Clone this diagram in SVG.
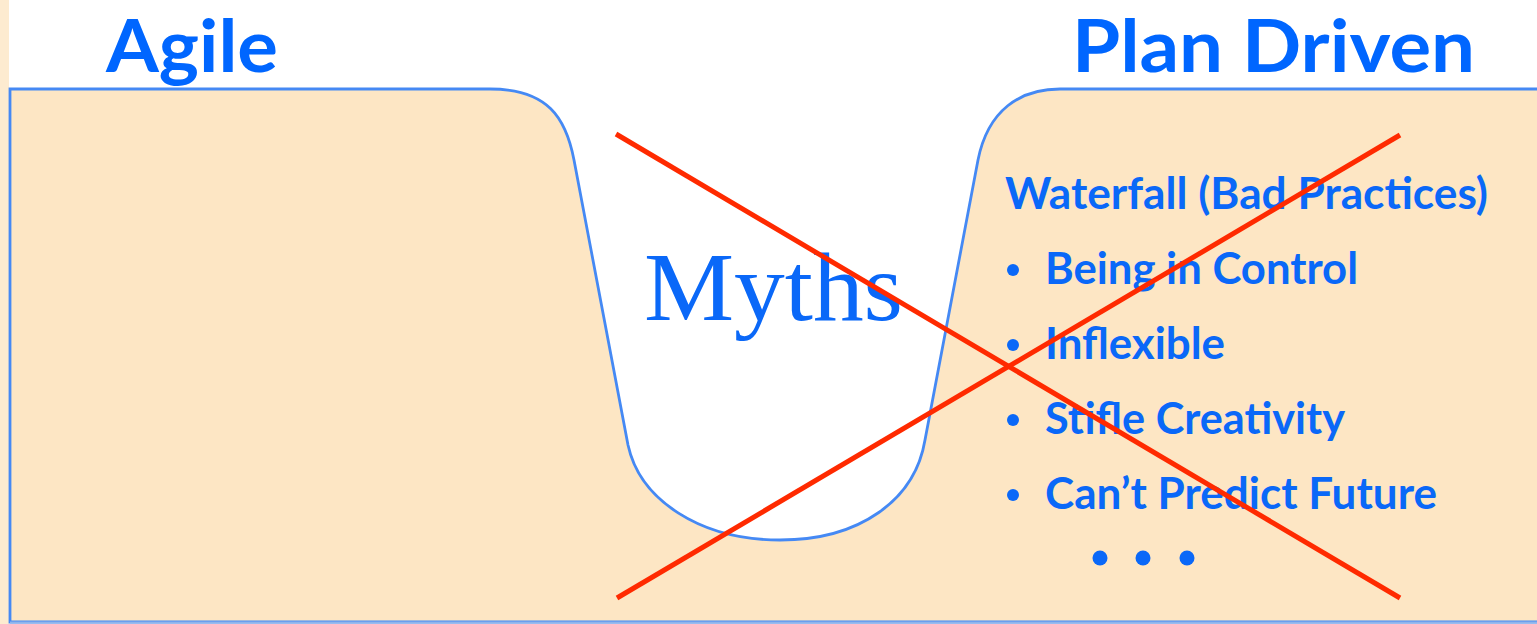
<svg xmlns="http://www.w3.org/2000/svg" width="1537" height="624" viewBox="0 0 1537 624">
  <style>
    .title { font-family: Lato, "Open Sans", "Liberation Sans", sans-serif; font-weight: 700; fill: #0066ff; font-size: 73px; }
    .item { font-family: Lato, "Open Sans", "Liberation Sans", sans-serif; font-weight: 700; fill: #0a68f8; font-size: 44px; }
    .myths { font-family: "Liberation Serif", "DejaVu Serif", serif; fill: #0a68f8; font-size: 98px; }
    .cross { stroke: #ff2a00; stroke-width: 5; fill: none; }
    .dot { fill: #0a68f8; }
  </style>
  <rect x="0" y="0" width="1537" height="624" fill="#ffffff"/>
  <rect x="0" y="0" width="9" height="624" fill="#fdebd0"/>

  <g id="landscape">
    <path d="M10,622 L10,89 L490,89 C548,89 566,118 574,160 L628,445 C640,500 700,540 780,540 C860,540 915,500 925,440 L978,160 C988,110 1020,89 1060,89 L1545,89 L1545,622 Z"
          fill="#fde6c4" stroke="#4589f4" stroke-width="2.8"/>
    <line x1="10" y1="622.5" x2="1545" y2="622.5" stroke="#8fb4ea" stroke-width="2"/>
  </g>

  <g id="agile-title">
    <text class="title" x="106" y="72" textLength="172" lengthAdjust="spacingAndGlyphs">Agile</text>
  </g>

  <g id="plan-driven-title">
    <text class="title" x="1072" y="72" textLength="403" lengthAdjust="spacingAndGlyphs">Plan Driven</text>
  </g>

  <g id="myths">
    <text class="myths" x="644" y="320" textLength="259" lengthAdjust="spacingAndGlyphs">Myths</text>
  </g>

  <g id="waterfall-list">
    <text class="item" x="1005" y="209" textLength="483" lengthAdjust="spacingAndGlyphs">Waterfall (Bad Practices)</text>
    <circle class="dot" cx="1013" cy="270" r="6"/>
    <text class="item" x="1045" y="284" textLength="313" lengthAdjust="spacingAndGlyphs">Being in Control</text>
    <circle class="dot" cx="1013" cy="345" r="6"/>
    <text class="item" x="1045" y="359" textLength="180" lengthAdjust="spacingAndGlyphs">Inflexible</text>
    <circle class="dot" cx="1013" cy="420" r="6"/>
    <text class="item" x="1045" y="434" textLength="300" lengthAdjust="spacingAndGlyphs">Stifle Creativity</text>
    <circle class="dot" cx="1013" cy="495" r="6"/>
    <text class="item" x="1045" y="509" textLength="392" lengthAdjust="spacingAndGlyphs">Can’t Predict Future</text>
    <circle class="dot" cx="1100" cy="558" r="7.5"/>
    <circle class="dot" cx="1143" cy="558" r="7.5"/>
    <circle class="dot" cx="1187" cy="558" r="7.5"/>
  </g>

  <g id="connectors">
    <line class="cross" x1="616" y1="134" x2="1400" y2="598"/>
    <line class="cross" x1="617" y1="598" x2="1400" y2="135"/>
  </g>
</svg>
